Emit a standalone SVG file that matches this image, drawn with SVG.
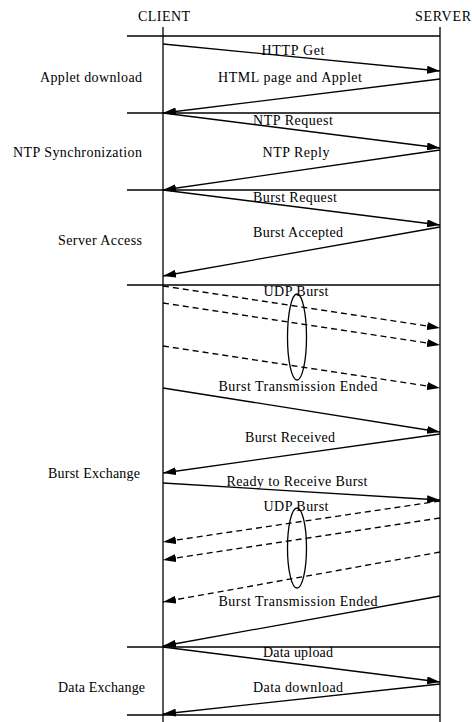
<svg xmlns="http://www.w3.org/2000/svg" width="472" height="722" viewBox="0 0 472 722">
<style>
text{font-family:"Liberation Serif","Times New Roman",serif;font-size:14px;fill:#000}
.c{text-anchor:middle}
line{stroke:#000;stroke-width:1.3;fill:none}
.m{marker-end:url(#ah)}
.d{stroke-dasharray:6 4}
ellipse{fill:none;stroke:#000;stroke-width:1.3}
</style>
<defs>
<marker id="ah" viewBox="0 0 13 8" refX="13" refY="4" markerWidth="13" markerHeight="8" orient="auto" markerUnits="userSpaceOnUse"><path d="M0,0 L13,4 L0,8 z" fill="#000"/></marker>
</defs>
<rect width="472" height="722" fill="#fff"/>
<g id="client">
<text class="c" x="164" y="21" textLength="52">CLIENT</text>
<line x1="163" y1="27" x2="163" y2="722"/>
</g>
<g id="server">
<text class="c" x="443" y="21" textLength="56">SERVER</text>
<line x1="440" y1="27" x2="440" y2="722"/>
</g>
<g id="separators">
<line x1="127" y1="36" x2="440" y2="36"/>
<line x1="127" y1="113" x2="440" y2="113"/>
<line x1="127" y1="190" x2="440" y2="190"/>
<line x1="127" y1="285" x2="440" y2="285"/>
<line x1="127" y1="647" x2="440" y2="647"/>
<line x1="127" y1="715" x2="440" y2="715"/>
</g>
<g id="phase-applet"><text x="40" y="82" textLength="102">Applet download</text></g>
<g id="phase-ntp"><text x="13" y="157" textLength="129">NTP Synchronization</text></g>
<g id="phase-access"><text x="58" y="245" textLength="84">Server Access</text></g>
<g id="phase-burst"><text x="48" y="478" textLength="92">Burst Exchange</text></g>
<g id="phase-data"><text x="58" y="692" textLength="87">Data Exchange</text></g>
<g id="burst-group-1"><ellipse cx="297" cy="337" rx="9.5" ry="43"/></g>
<g id="burst-group-2"><ellipse cx="297" cy="548" rx="9.5" ry="40"/></g>
<g id="connectors">
<line class="m" x1="163" y1="44" x2="440" y2="71"/>
<line class="m" x1="440" y1="79" x2="163" y2="113"/>
<line class="m" x1="163" y1="113" x2="440" y2="148"/>
<line class="m" x1="440" y1="150" x2="163" y2="190"/>
<line class="m" x1="163" y1="190" x2="440" y2="225"/>
<line class="m" x1="440" y1="227" x2="163" y2="276"/>
<line class="m d" x1="163" y1="286" x2="440" y2="328"/>
<line class="m d" x1="163" y1="303" x2="440" y2="345"/>
<line class="m d" x1="163" y1="346" x2="440" y2="388"/>
<line class="m" x1="163" y1="388" x2="440" y2="432"/>
<line class="m" x1="440" y1="434" x2="163" y2="473"/>
<line class="m" x1="163" y1="483" x2="440" y2="500"/>
<line class="m d" x1="440" y1="501" x2="163" y2="542"/>
<line class="m d" x1="440" y1="518" x2="163" y2="560"/>
<line class="m d" x1="440" y1="552" x2="163" y2="602"/>
<line class="m" x1="440" y1="596" x2="163" y2="646"/>
<line class="m" x1="163" y1="647" x2="440" y2="682"/>
<line class="m" x1="440" y1="684" x2="163" y2="714"/>
<text class="c" x="293" y="55" textLength="63">HTTP Get</text>
<text class="c" x="290" y="82" textLength="144">HTML page and Applet</text>
<text class="c" x="293" y="125" textLength="80">NTP Request</text>
<text class="c" x="296" y="157" textLength="67">NTP Reply</text>
<text class="c" x="295" y="202" textLength="84">Burst Request</text>
<text class="c" x="298" y="237" textLength="90">Burst Accepted</text>
<text class="c" x="296" y="296" textLength="65">UDP Burst</text>
<text class="c" x="298" y="391" textLength="159">Burst Transmission Ended</text>
<text class="c" x="290" y="442" textLength="90">Burst Received</text>
<text class="c" x="297" y="486" textLength="141">Ready to Receive Burst</text>
<text class="c" x="296" y="511" textLength="65">UDP Burst</text>
<text class="c" x="298" y="606" textLength="159">Burst Transmission Ended</text>
<text class="c" x="298" y="657" textLength="70">Data upload</text>
<text class="c" x="298" y="692" textLength="90">Data download</text>
</g>
</svg>
